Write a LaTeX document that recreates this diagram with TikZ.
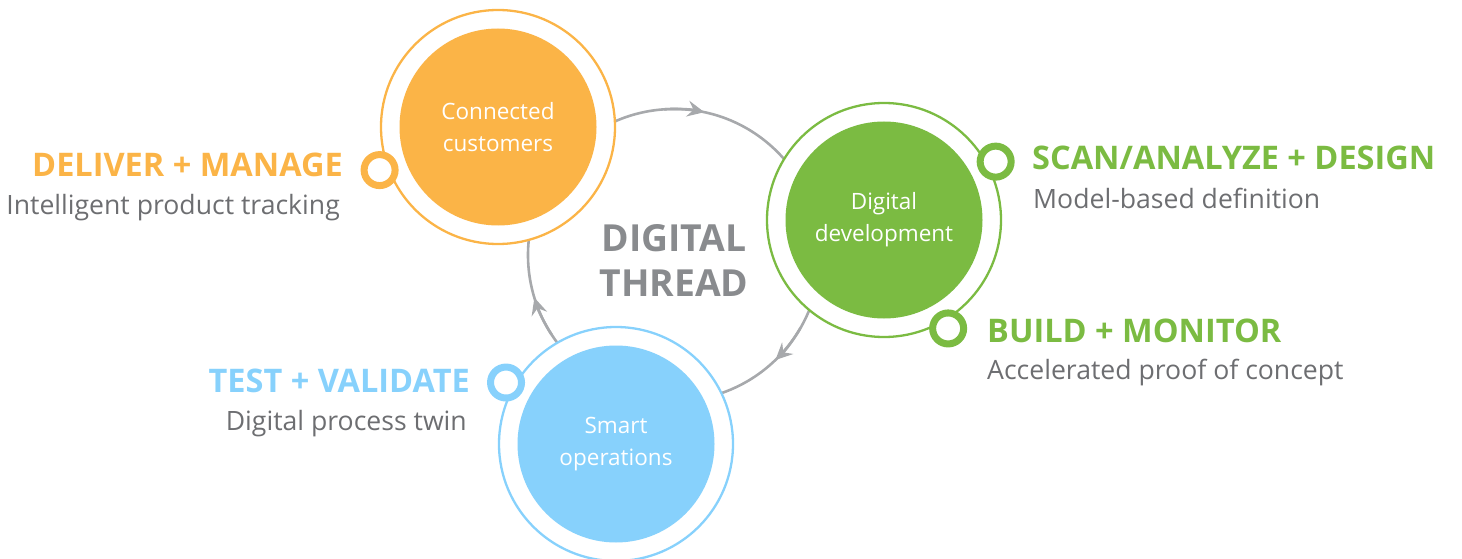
\documentclass[tikz,border=0pt]{standalone}
\usepackage{fontspec}
\setmainfont{Open Sans}
\usetikzlibrary{arrows.meta}
\definecolor{dtorange}{HTML}{FBB447}
\definecolor{dtgreen}{HTML}{7BBB42}
\definecolor{dtblue}{HTML}{87D1FC}
\definecolor{dtgray}{HTML}{6D6E71}
\definecolor{dttitle}{HTML}{898B8E}
\definecolor{dtthread}{HTML}{A7A9AC}

\begin{document}
\begin{tikzpicture}[x=1pt,y=1pt,
  ring/.style={circle,draw=#1,line width=2.3pt,fill=white,minimum size=234pt,inner sep=0pt},
  core/.style={circle,fill=#1,minimum size=197pt,inner sep=0pt,text=white,align=center,
    font=\fontsize{22.5}{32}\selectfont},
  dot/.style={circle,draw=#1,line width=7pt,fill=white,minimum size=31pt,inner sep=0pt},
  head/.style={text=#1,font=\fontsize{32.5}{36}\selectfont\bfseries,inner sep=0pt},
  sub/.style={text=dtgray,font=\fontsize{26.6}{30}\selectfont,inner sep=0pt},
  loopline/.style={line width=2.6pt,draw=dtthread},
  looptip/.style={-{Stealth[length=17pt,width=16pt,inset=6pt]}}]
 \useasboundingbox (0,0) rectangle (1462,558); %枠
 \coordinate (T) at (674,303); %中心
 \draw[loopline] (T) circle[radius=146]; %スレッド
 \draw[loopline,looptip] ([shift={(94:146)}]T) arc[start angle=94,end angle=78,radius=146]; %上の矢印
 \draw[loopline,looptip] ([shift={(-30:146)}]T) arc[start angle=-30,end angle=-46,radius=146]; %右下の矢印
 \draw[loopline,looptip] ([shift={(213:146)}]T) arc[start angle=213,end angle=197,radius=146]; %左の矢印
 \node[ring=dtorange] (CCring) at (498,431) {}; %外円
 \node[core=dtorange] (CC) at (498,431) {Connected\\customers};
 \node[ring=dtgreen] (DDring) at (884,338) {};
 \node[core=dtgreen] (DD) at (884,338) {Digital\\development};
 \node[ring=dtblue] (SOring) at (616,114) {};
 \node[core=dtblue] (SO) at (616,114) {Smart\\operations};
 \node[dot=dtorange] (DMdot) at ([shift={(200:126)}]CC) {}; %小さい輪
 \node[dot=dtgreen] (SDdot) at ([shift={(27.6:126)}]DD) {};
 \node[dot=dtgreen] (BMdot) at ([shift={(-59.4:126)}]DD) {};
 \node[dot=dtblue] (TVdot) at ([shift={(150.8:126)}]SO) {};
 \node[text=dttitle,font=\fontsize{37.3}{45}\selectfont\bfseries,anchor=base,inner sep=0pt] (DT1) at (674,306.3) {DIGITAL}; %タイトル
 \node[text=dttitle,font=\fontsize{37.3}{45}\selectfont\bfseries,anchor=base,inner sep=0pt] (DT2) at (674,261.3) {THREAD};
 \node[head=dtorange,anchor=base east] (DMhead) at (343,381.3) {DELIVER + MANAGE}; %左上
 \node[sub,anchor=base east] (DMsub) at (340,343) {Intelligent product tracking};
 \node[head=dtgreen,anchor=base west] (SDhead) at (1032,388) {SCAN/ANALYZE + DESIGN}; %右上
 \node[sub,anchor=base west] (SDsub) at (1033,349.7) {Model-based definition};
 \node[head=dtgreen,anchor=base west] (BMhead) at (987,215.3) {BUILD + MONITOR}; %右下
 \node[sub,anchor=base west] (BMsub) at (987,178.7) {Accelerated proof of concept};
 \node[head=dtblue,anchor=base east] (TVhead) at (470,165.7) {TEST + VALIDATE}; %左下
 \node[sub,anchor=base east] (TVsub) at (467,128) {Digital process twin};
\end{tikzpicture}
\end{document}
